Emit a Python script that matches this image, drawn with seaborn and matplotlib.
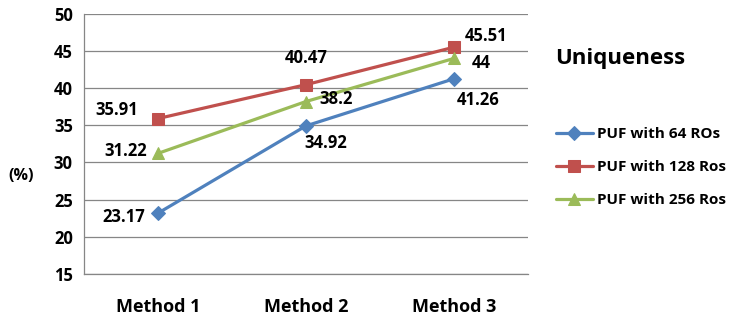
import pandas as pd
import numpy as np

import seaborn as sns
import matplotlib.pyplot as plt

# data
methods = ["Method 1", "Method 2", "Method 3"]
series_names = ["PUF with 64 ROs", "PUF with 128 Ros", "PUF with 256 Ros"]
puf_64 = [23.17, 34.92, 41.26]
puf_128 = [35.91, 40.47, 45.51]
puf_256 = [31.22, 38.2, 44]
y_ticks = [15, 20, 25, 30, 35, 40, 45, 50]

sns.set_style("white")
plt.rcParams['font.family'] = ['Open Sans', 'DejaVu Sans']
plt.rcParams['font.weight'] = 'bold'
plt.rcParams['text.color'] = 'black'
plt.rcParams['xtick.labelcolor'] = 'black'
plt.rcParams['ytick.labelcolor'] = 'black'

rows = []
for name, vals in zip(series_names, [puf_64, puf_128, puf_256]):
    for i, v in enumerate(vals):
        rows.append({"pos": i, "method": methods[i], "value": v, "series": name})
df = pd.DataFrame(rows)

colors = ["#4F81BD", "#C0504D", "#9BBB59"]
markers = {"PUF with 64 ROs": "D", "PUF with 128 Ros": "s", "PUF with 256 Ros": "^"}
msizes = {"PUF with 64 ROs": 7, "PUF with 128 Ros": 8, "PUF with 256 Ros": 9}

fig = plt.figure(figsize=(7.3, 3.23), dpi=100)
ax = fig.add_axes([0.115, 0.152, 0.608, 0.805])

for name, c in zip(series_names, colors):
    sub = df[df.series == name]
    sns.lineplot(data=sub, x="pos", y="value", color=c, marker=markers[name],
                 markersize=msizes[name], markeredgecolor=c, linewidth=2.3,
                 label=name, ax=ax)

# value labels (offsets in points)
offsets = {
    "PUF with 64 ROs": [(-9, -3, 'right'), (14, -12, 'center'), (2, -15, 'left')],
    "PUF with 128 Ros": [(-14, 6, 'right'), (0, 19, 'center'), (8, 8, 'left')],
    "PUF with 256 Ros": [(-8, 2, 'right'), (10, 2, 'left'), (13, -3, 'left')],
}
for name, vals in zip(series_names, [puf_64, puf_128, puf_256]):
    for i, v in enumerate(vals):
        dx, dy, ha = offsets[name][i]
        ax.annotate(f"{v:g}", (i, v), xytext=(dx, dy), textcoords="offset points",
                    ha=ha, va="center", fontsize=12, fontweight="bold")

ax.set_xlim(-0.5, 2.5)
ax.set_ylim(15, 50)
ax.set_yticks(y_ticks)
ax.set_xticks([0, 1, 2])
ax.set_xticklabels(methods, fontsize=13, fontweight="bold")
ax.set_xticks([-0.5, 0.5, 1.5, 2.5], minor=True)
ax.tick_params(axis="x", which="major", length=0, pad=17)
ax.tick_params(axis="x", which="minor", length=5, color="#868686", direction="out")
ax.tick_params(axis="y", length=5, color="#868686", direction="out", labelsize=12, pad=3)
for lab in ax.get_yticklabels():
    lab.set_fontweight("bold")
ax.yaxis.grid(True, color="#868686", linewidth=0.9)
ax.set_axisbelow(True)
for s in ["top", "right"]:
    ax.spines[s].set_visible(False)
for s in ["left", "bottom"]:
    ax.spines[s].set_color("#868686")
    ax.spines[s].set_linewidth(0.9)
ax.set_xlabel("")
ax.set_ylabel("")

fig.text(0.012, 0.455, "(%)", fontsize=11.5, fontweight="bold", va="center")
fig.text(0.76, 0.82, "Uniqueness", fontsize=16, fontweight="bold", va="center")

ax.legend(loc="center left", bbox_to_anchor=(1.05, 0.41), frameon=False,
          fontsize=11, handlelength=2.4, handletextpad=0.3, labelspacing=1.25,
          borderaxespad=0)
for t in ax.get_legend().get_texts():
    t.set_fontweight("bold")

fig.savefig("out.png", dpi=100)
